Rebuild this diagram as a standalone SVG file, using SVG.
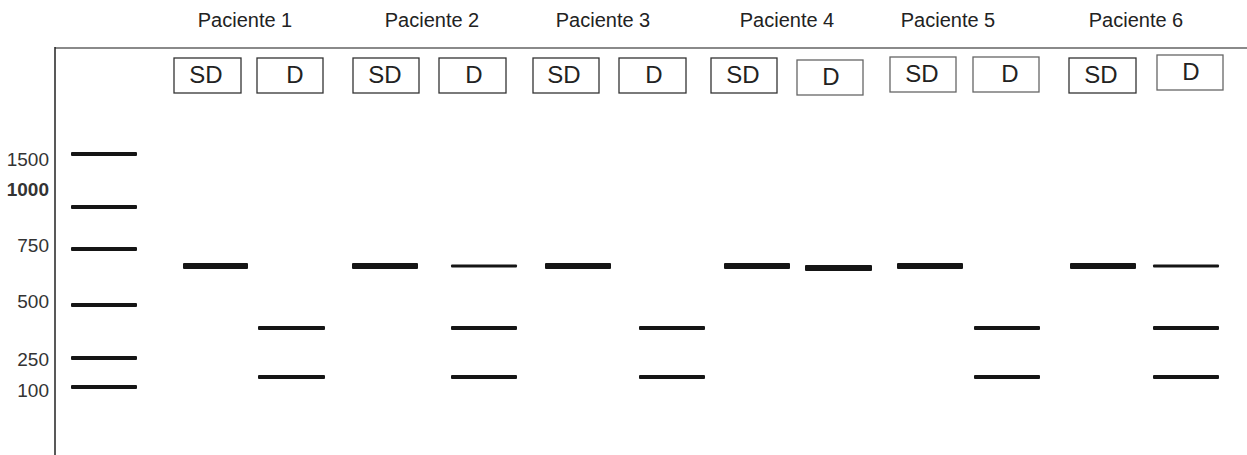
<svg xmlns="http://www.w3.org/2000/svg" width="1247" height="455" viewBox="0 0 1247 455">
  <style>
    .head { font-family: "Liberation Sans", Arial, sans-serif; font-size: 20px; fill: #222; text-anchor: middle; }
    .box { fill: #fff; stroke: #333; stroke-width: 1.3; }
    .box.soft { stroke: #666; }
    .lane text { font-family: "Liberation Sans", Arial, sans-serif; font-size: 24px; fill: #222; text-anchor: middle; }
    .size { font-family: "Liberation Sans", Arial, sans-serif; font-size: 19px; fill: #333; text-anchor: end; }
    .band { fill: #151515; }
  </style>

  <rect width="1247" height="455" fill="#fff"/>

  <!-- gel frame -->
  <g id="frame">
    <line x1="55" y1="48" x2="1247" y2="48" stroke="#8a8a8a" stroke-width="2"/>
    <line x1="55" y1="47" x2="55" y2="455" stroke="#222" stroke-width="1.5"/>
  </g>

  <!-- patient headings -->
  <g id="headings">
    <text class="head" x="245" y="27">Paciente 1</text>
    <text class="head" x="432" y="27">Paciente 2</text>
    <text class="head" x="603" y="27">Paciente 3</text>
    <text class="head" x="787" y="27">Paciente 4</text>
    <text class="head" x="948" y="27">Paciente 5</text>
    <text class="head" x="1136" y="27">Paciente 6</text>
  </g>

  <!-- size ladder -->
  <g id="ladder">
    <text class="size" x="49" y="166">1500</text>
    <text class="size" x="49" y="196" font-weight="bold">1000</text>
    <text class="size" x="49" y="252">750</text>
    <text class="size" x="49" y="308">500</text>
    <text class="size" x="49" y="366">250</text>
    <text class="size" x="49" y="397">100</text>
    <rect class="band" x="71" y="152" width="66" height="4" rx="1"/>
    <rect class="band" x="71" y="205" width="66" height="4" rx="1"/>
    <rect class="band" x="71" y="247" width="66" height="4" rx="1"/>
    <rect class="band" x="71" y="303" width="66" height="4" rx="1"/>
    <rect class="band" x="71" y="356" width="66" height="4" rx="1"/>
    <rect class="band" x="71" y="385" width="66" height="4" rx="1"/>
  </g>

  <!-- Paciente 1 -->
  <g id="p1-sd" class="lane">
    <rect class="box" x="174" y="58" width="67" height="35"/>
    <text x="206" y="83">SD</text>
    <rect class="band" x="183" y="263" width="65" height="6" rx="1"/>
  </g>
  <g id="p1-d" class="lane">
    <rect class="box" x="257" y="58" width="66" height="35"/>
    <text x="295" y="83">D</text>
    <rect class="band" x="258" y="326" width="67" height="4" rx="1"/>
    <rect class="band" x="258" y="375" width="67" height="4" rx="1"/>
  </g>

  <!-- Paciente 2 -->
  <g id="p2-sd" class="lane">
    <rect class="box" x="353" y="58" width="66" height="35"/>
    <text x="385" y="83">SD</text>
    <rect class="band" x="352" y="263" width="66" height="6" rx="1"/>
  </g>
  <g id="p2-d" class="lane">
    <rect class="box" x="439" y="58" width="67" height="35"/>
    <text x="474" y="83">D</text>
    <rect class="band" x="451" y="264.5" width="66" height="3" rx="1"/>
    <rect class="band" x="451" y="326" width="66" height="4" rx="1"/>
    <rect class="band" x="451" y="375" width="66" height="4" rx="1"/>
  </g>

  <!-- Paciente 3 -->
  <g id="p3-sd" class="lane">
    <rect class="box" x="533" y="58" width="66" height="35"/>
    <text x="564" y="83">SD</text>
    <rect class="band" x="545" y="263" width="66" height="6" rx="1"/>
  </g>
  <g id="p3-d" class="lane">
    <rect class="box" x="619" y="58" width="67" height="35"/>
    <text x="654" y="83">D</text>
    <rect class="band" x="639" y="326" width="66" height="4" rx="1"/>
    <rect class="band" x="639" y="375" width="66" height="4" rx="1"/>
  </g>

  <!-- Paciente 4 -->
  <g id="p4-sd" class="lane">
    <rect class="box" x="711" y="58" width="66" height="35"/>
    <text x="743" y="83">SD</text>
    <rect class="band" x="724" y="263" width="66" height="6" rx="1"/>
  </g>
  <g id="p4-d" class="lane">
    <rect class="box soft" x="797" y="60" width="66" height="35"/>
    <text x="831" y="85">D</text>
    <rect class="band" x="805" y="265" width="67" height="6" rx="1"/>
  </g>

  <!-- Paciente 5 -->
  <g id="p5-sd" class="lane">
    <rect class="box soft" x="890" y="57" width="66" height="35"/>
    <text x="922" y="82">SD</text>
    <rect class="band" x="897" y="263" width="66" height="6" rx="1"/>
  </g>
  <g id="p5-d" class="lane">
    <rect class="box soft" x="973" y="57" width="66" height="35"/>
    <text x="1010" y="82">D</text>
    <rect class="band" x="974" y="326" width="66" height="4" rx="1"/>
    <rect class="band" x="974" y="375" width="66" height="4" rx="1"/>
  </g>

  <!-- Paciente 6 -->
  <g id="p6-sd" class="lane">
    <rect class="box" x="1069" y="58" width="67" height="35"/>
    <text x="1101" y="83">SD</text>
    <rect class="band" x="1070" y="263" width="66" height="6" rx="1"/>
  </g>
  <g id="p6-d" class="lane">
    <rect class="box soft" x="1157" y="55" width="66" height="35"/>
    <text x="1191" y="80">D</text>
    <rect class="band" x="1153" y="264.5" width="66" height="3" rx="1"/>
    <rect class="band" x="1153" y="326" width="66" height="4" rx="1"/>
    <rect class="band" x="1153" y="375" width="66" height="4" rx="1"/>
  </g>
</svg>
